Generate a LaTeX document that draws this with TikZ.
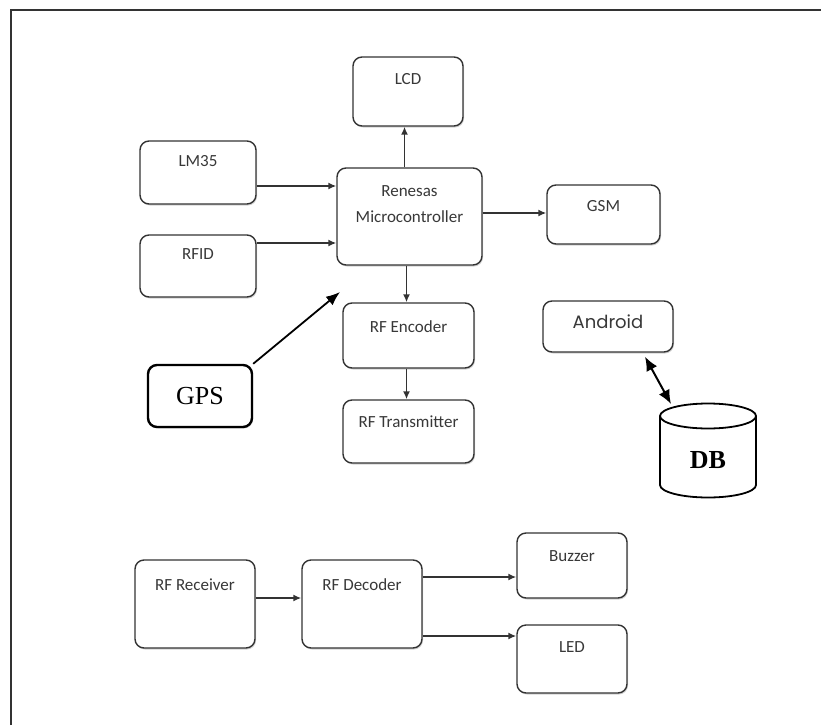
\documentclass[tikz,border=0pt]{standalone}
\usepackage{fontspec}
\newfontfamily\calfont{Carlito}
\newfontfamily\gothfont{Poppins}
\newfontfamily\serffont{Liberation Serif}
\usetikzlibrary{arrows.meta,shadows}
\definecolor{ink}{HTML}{333333}
\definecolor{txt}{HTML}{383838}
\begin{document}
\begin{tikzpicture}[x=1pt,y=-1pt,
  box/.style={draw=ink, line width=1.4pt, rounded corners=9pt, fill=white, inner sep=0pt,
    drop shadow={shadow xshift=1pt, shadow yshift=-1.5pt, opacity=0.35}},
  lbl/.style={font=\calfont\fontsize{17}{26}\selectfont, text=txt, align=center, anchor=center, inner sep=0pt},
  arr/.style={draw=ink, line width=1.5pt, -{Latex[length=8pt,width=7pt]}},
  bigarr/.style={draw=black, line width=1.8pt, -{Latex[length=14pt,width=11pt]}},
  dblarr/.style={draw=black, line width=2pt, {Latex[length=14pt,width=12pt]}-{Latex[length=14pt,width=12pt]}}
]
\useasboundingbox (0,0) rectangle (821,725);
% frame
\draw[ink, line width=2pt] (11,725) -- (11,10) -- (821,10);

% top section
\node[box, minimum width=110pt, minimum height=69pt,
  label={[lbl, yshift=-23pt]north:LCD}] (lcd) at (408,91.5) {};
\node[box, minimum width=116pt, minimum height=63pt,
  label={[lbl, yshift=-21pt]north:LM35}] (lm35) at (198,172.5) {};
\node[box, minimum width=145pt, minimum height=97pt,
  label={[lbl, yshift=-37pt]north:Renesas\\Microcontroller}] (mcu) at (409.5,216.5) {};
\node[box, minimum width=116pt, minimum height=62pt,
  label={[lbl, yshift=-20pt]north:RFID}] (rfid) at (198,266) {};
\node[box, minimum width=113pt, minimum height=59pt,
  label={[lbl, yshift=-22pt]north:GSM}] (gsm) at (603.5,214.5) {};
\node[box, draw=black, line width=2.4pt, minimum width=104pt, minimum height=62pt,
  font=\serffont\fontsize{26}{30}\selectfont] (gps) at (200,396) {GPS};
\node[box, minimum width=131pt, minimum height=65pt,
  label={[lbl, yshift=-24pt]north:RF Encoder}] (enc) at (408.5,335.5) {};
\node[box, minimum width=131pt, minimum height=63pt,
  label={[lbl, yshift=-22pt]north:RF Transmitter}] (tx) at (408.5,431.5) {};
\node[box, minimum width=130pt, minimum height=51pt,
  label={[font=\gothfont\fontsize{18}{22}\selectfont, text=txt, anchor=center, inner sep=0pt, yshift=-21pt]north:Android}] (android) at (608,326.5) {};

% DB cylinder
\draw[black, line width=1.8pt, fill=white] (660,416) -- (660,485)
  arc[start angle=180, end angle=360, x radius=48pt, y radius=12.5pt] -- (756,416);
\draw[black, line width=1.8pt, fill=white] (708,416) ellipse [x radius=48pt, y radius=12.5pt];
\node[font=\serffont\bfseries\fontsize{26}{30}\selectfont] (db) at (708,460) {DB};
\coordinate (dbtop) at (671,404);

% top connectors
\coordinate (p1) at ([yshift=-13.5pt]lm35.east);
\draw[arr] (p1) -- (p1 -| mcu.west);
\coordinate (p2) at ([yshift=23pt]rfid.east);
\draw[arr] (p2) -- (p2 -| mcu.west);
\coordinate (p3) at ([xshift=-5pt]mcu.north);
\draw[arr] (p3) -- (p3 |- lcd.south);
\coordinate (p4) at ([yshift=1.5pt]gsm.west);
\draw[arr] (p4 -| mcu.east) -- (p4);
\coordinate (p5) at ([xshift=-3pt]mcu.south);
\draw[arr] (p5) -- (p5 |- enc.north);
\coordinate (p6) at ([xshift=-2pt]enc.south);
\draw[arr] (p6) -- (p6 |- tx.north);
\coordinate (gpsend) at (340,292);
\draw[bigarr] (gps.north east) -- (gpsend);
\draw[dblarr] ([xshift=37pt,yshift=-4pt]android.south) -- (dbtop);

% bottom section
\node[box, minimum width=120pt, minimum height=88pt,
  label={[lbl, yshift=-25pt]north:RF Receiver}] (rx) at (195,604) {};
\node[box, minimum width=120pt, minimum height=88pt,
  label={[lbl, yshift=-25pt]north:RF Decoder}] (dec) at (362,604) {};
\node[box, minimum width=110pt, minimum height=65pt,
  label={[lbl, yshift=-24pt]north:Buzzer}] (buz) at (572,565.5) {};
\node[box, minimum width=110pt, minimum height=68pt,
  label={[lbl, yshift=-23pt]north:LED}] (led) at (572,659) {};

\coordinate (q1) at ([yshift=6pt]rx.east);
\draw[arr] (q1) -- (q1 -| dec.west);
\coordinate (q2) at ([yshift=-11.5pt]buz.west);
\draw[arr] (q2 -| dec.east) -- (q2);
\coordinate (q3) at ([yshift=23pt]led.west);
\draw[arr] (q3 -| dec.east) -- (q3);
\end{tikzpicture}
\end{document}
